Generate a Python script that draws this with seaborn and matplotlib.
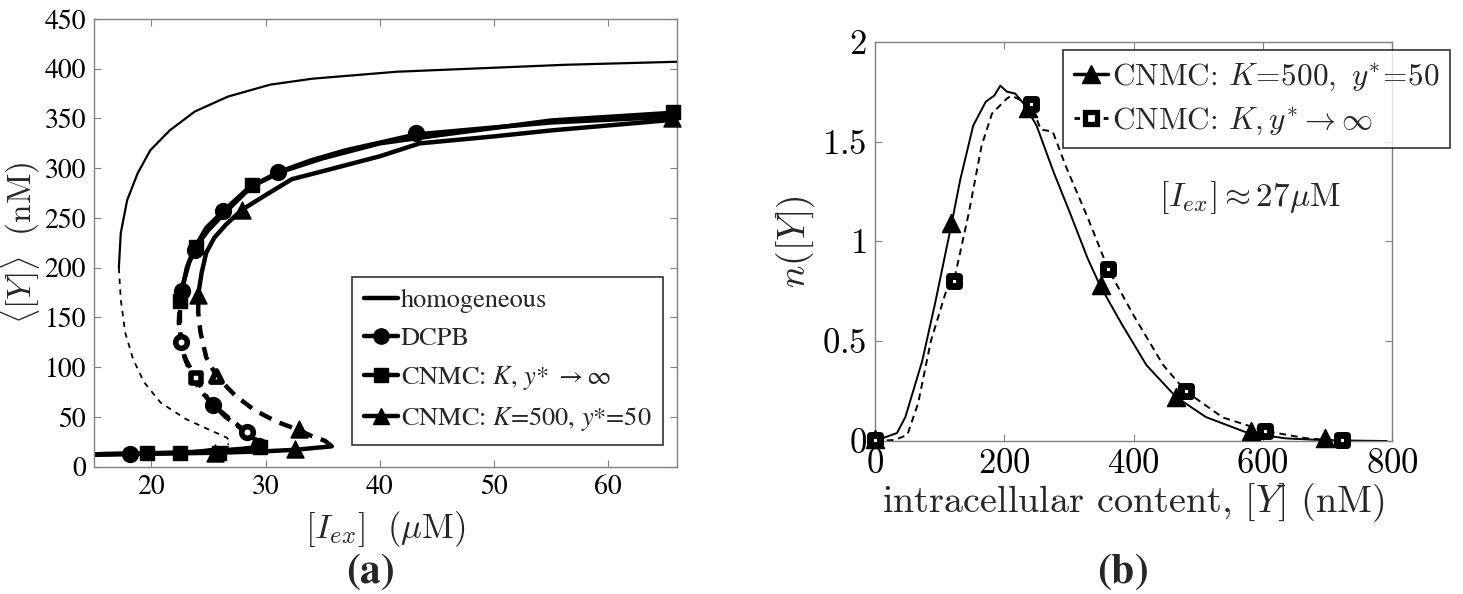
import numpy as np
import pandas as pd
import matplotlib
matplotlib.use("Agg")
import matplotlib.pyplot as plt
from matplotlib.lines import Line2D
from matplotlib.font_manager import FontProperties
from matplotlib.ticker import FuncFormatter
import seaborn as sns

# ---------------- data: panel (a) ----------------
# homogeneous
hom_up_x = [17.15, 17.32, 17.88, 18.8, 19.9, 21.6, 23.8, 26.7, 30.4, 34.1, 41.5, 48.9, 56.3, 66.0]
hom_up_y = [200, 235, 268, 295, 318, 338, 357, 372, 384, 390, 397, 400.5, 404, 407]
hom_mid_x = [17.15, 17.32, 17.7, 18.4, 19.35, 20.8, 23.0, 24.9, 26.55, 26.9, 26.7]
hom_mid_y = [200, 168, 135, 108, 85, 64.5, 48, 38, 29.5, 26, 22]
hom_low_x = [15.0, 20.0, 24.0, 26.7]
hom_low_y = [12.5, 13.5, 16.0, 20.0]

# DCPB
dc_low_x = [15.0, 18.0, 22.0, 25.0, 28.0, 29.8]
dc_low_y = [12.5, 13.0, 14.0, 15.5, 18.0, 20.5]
dc_mid_x = [29.8, 29.3, 28.3, 27.0, 25.4, 24.2, 23.4, 22.9, 22.6, 22.5, 22.5, 22.6]
dc_mid_y = [20.5, 25, 35, 47, 62, 78, 95, 110, 125, 140, 155, 165]
dc_up_x = [22.6, 22.7, 23.1, 23.7, 24.8, 26.3, 28.5, 31.1, 34.0, 37.0, 43.2, 50.0, 55.0, 66.0]
dc_up_y = [165, 177, 200, 218, 240, 257, 280, 296, 308, 318, 334, 341, 346, 352]
dc_mk_x = [18.1, 22.6, 25.4, 28.4, 29.4, 22.7, 23.8, 26.3, 31.1, 43.2]
dc_mk_y = [13, 125, 62, 35, 21, 177, 218, 257, 296, 335]
dc_mk_hollow = [0, 1, 0, 1, 0, 0, 0, 0, 0, 0]

# CNMC: K, y* -> inf
sq_low_x = [15.0, 19.6, 22.5, 25.8, 28.0, 30.0]
sq_low_y = [12.5, 13.5, 14.0, 15.0, 17.5, 20.0]
sq_mid_x = [30.0, 29.3, 28.0, 26.5, 25.0, 23.9, 23.0, 22.6, 22.4, 22.5]
sq_mid_y = [20, 26, 37, 50, 67, 89, 108, 125, 145, 167]
sq_up_x = [22.5, 22.8, 23.3, 23.9, 25.0, 26.5, 28.8, 31.5, 35.0, 40.0, 45.0, 55.0, 66.0]
sq_up_y = [167, 185, 205, 221, 238, 256, 282, 297, 310, 325, 333, 348, 356]
sq_mk_x = [19.6, 22.5, 25.9, 29.5, 23.9, 22.5, 23.9, 28.8, 65.7]
sq_mk_y = [13.5, 14, 13.5, 20, 89, 167, 221, 283, 357]
sq_mk_hollow = [0, 0, 0, 0, 1, 0, 0, 0, 0]

# CNMC: K=500, y*=50
tr_low_x = [15.0, 20.0, 25.6, 30.0, 32.6, 35.8]
tr_low_y = [12.0, 13.0, 14.0, 15.5, 17.0, 20.5]
tr_mid_x = [35.8, 35.2, 34.0, 32.9, 31.0, 29.0, 27.3, 25.7, 24.8, 24.3, 24.1, 24.1]
tr_mid_y = [20.5, 26, 31, 37, 45, 57, 72, 91, 110, 135, 155, 173]
tr_up_x = [24.1, 24.4, 24.8, 25.5, 26.5, 27.9, 30.0, 32.3, 36.0, 40.0, 43.5, 50.0, 55.0, 66.0]
tr_up_y = [173, 195, 215, 230, 243, 258, 273, 289, 300, 312, 325, 332, 338, 349]
tr_mk_x = [25.6, 32.6, 25.7, 32.9, 24.1, 27.9, 65.6]
tr_mk_y = [14, 17.5, 91, 38, 173, 258, 350]
tr_mk_hollow = [0, 0, 1, 0, 0, 0, 0]

legend_a = ["homogeneous", "DCPB", r"CNMC: $K$, $y$* $\rightarrow\infty$", r"CNMC: $K$=500, $y$*=50"]
xticks_a = [20, 30, 40, 50, 60]
yticks_a = [0, 50, 100, 150, 200, 250, 300, 350, 400, 450]

# ---------------- data: panel (b) ----------------
k500_x = [0, 34, 47, 73, 93, 118, 132, 152, 171.5, 184.6, 194, 204, 217, 230, 250, 276, 302, 329, 348, 381,
          420, 466, 512, 577, 636, 695, 787]
k500_y = [0, 0.04, 0.12, 0.40, 0.69, 1.08, 1.31, 1.58, 1.70, 1.73, 1.78, 1.75, 1.74, 1.69, 1.58, 1.35, 1.14,
          0.915, 0.78, 0.59, 0.38, 0.22, 0.12, 0.04, 0.013, 0.004, 0.0]
k500_mk_x = [0, 118, 236, 349, 465, 582, 697]
k500_mk_y = [0.01, 1.09, 1.67, 0.78, 0.22, 0.05, 0.017]

inf_x = [0, 30, 50, 66.8, 86.4, 109, 122, 145, 165, 181, 204, 211, 242, 256.6, 275, 296, 329, 361, 400, 446,
         480.5, 538, 603.6, 669, 723, 793]
inf_y = [0, 0.005, 0.03, 0.19, 0.50, 0.74, 0.80, 1.14, 1.48, 1.64, 1.715, 1.73, 1.68, 1.56, 1.55, 1.37, 1.12,
         0.86, 0.63, 0.38, 0.25, 0.118, 0.05, 0.013, 0.0, 0.0]
inf_mk_x = [0, 122, 242, 361, 481, 604, 722]
inf_mk_y = [0.005, 0.80, 1.69, 0.86, 0.25, 0.05, 0.005]

legend_b = [r"CNMC: $K\!=\!500,\ y^{*}\!=\!50$", r"CNMC: $K, y^{*}\rightarrow\infty$"]
xticks_b = [0, 200, 400, 600, 800]
yticks_b = [0, 0.5, 1, 1.5, 2]
ytick_labels_b = ["0", "0.5", "1", "1.5", "2"]

# ---------------- styling ----------------
sns.set_theme(style="ticks")
plt.rcParams["font.family"] = ["STIXGeneral", "Liberation Serif", "DejaVu Serif"]
plt.rcParams["mathtext.fontset"] = "cm"

W, H = 1463, 594
fig = plt.figure(figsize=(W / 100, H / 100), dpi=100)
fig.patch.set_facecolor("white")

def px_axes(x0, y0, x1, y1):
    return fig.add_axes([x0 / W, 1 - y1 / H, (x1 - x0) / W, (y1 - y0) / H])

axA = px_axes(94.3, 19, 676.7, 466.7)
axB = px_axes(875, 41.7, 1392, 441)

def style_axes(ax, lsize):
    for s in ax.spines.values():
        s.set_color("0.5")
        s.set_linewidth(1.0)
    ax.tick_params(direction="in", top=True, right=True, length=5, width=0.8, color="0.5",
                   labelsize=lsize, pad=6, labelcolor="black")
    ax.set_facecolor("white")
    ax.grid(False)

def line(ax, x, y, lw, ls="-"):
    df = pd.DataFrame({"x": x, "y": y})
    sns.lineplot(data=df, x="x", y="y", sort=False, estimator=None, ax=ax, color="black",
                 linewidth=lw, linestyle=ls, legend=False)

def marks(ax, x, y, hollow, marker, s, hs=None, hlw=4.0):
    df = pd.DataFrame({"x": x, "y": y, "h": hollow})
    f = df[df.h == 0]
    h = df[df.h == 1]
    if len(f):
        sns.scatterplot(data=f, x="x", y="y", ax=ax, marker=marker, s=s, color="black",
                        edgecolor="black", linewidth=1, zorder=5, clip_on=False, legend=False)
    if len(h):
        sns.scatterplot(data=h, x="x", y="y", ax=ax, marker=marker, s=hs if hs else s * 0.6,
                        color="white", edgecolor="black", linewidth=hlw, zorder=5, clip_on=False,
                        legend=False)

# ---- panel (a)
thick = 3.2
line(axA, hom_up_x, hom_up_y, 1.6)
line(axA, hom_mid_x, hom_mid_y, 1.3, (0, (3, 3)))
line(axA, hom_low_x, hom_low_y, 1.6)
for lo, mid, up in [((dc_low_x, dc_low_y), (dc_mid_x, dc_mid_y), (dc_up_x, dc_up_y)),
                    ((sq_low_x, sq_low_y), (sq_mid_x, sq_mid_y), (sq_up_x, sq_up_y)),
                    ((tr_low_x, tr_low_y), (tr_mid_x, tr_mid_y), (tr_up_x, tr_up_y))]:
    line(axA, *lo, thick)
    line(axA, *mid, thick, (0, (3, 2)))
    line(axA, *up, thick)
marks(axA, dc_mk_x, dc_mk_y, dc_mk_hollow, "o", 130, hs=70, hlw=4.0)
marks(axA, sq_mk_x, sq_mk_y, sq_mk_hollow, "s", 110, hs=55, hlw=4.0)
marks(axA, tr_mk_x, tr_mk_y, tr_mk_hollow, "^", 150, hs=65, hlw=4.0)

axA.set_xlim(15, 66)
axA.set_ylim(0, 450)
axA.set_xticks(xticks_a)
axA.set_yticks(yticks_a)
style_axes(axA, 20)
axA.set_xlabel(r"$[I_{ex}]\ \ (\mu\mathrm{M})$", fontsize=25, labelpad=6)
axA.set_ylabel(r"$\langle[Y]\rangle\ \ (\mathrm{nM})$", fontsize=24, labelpad=2)

hA = [Line2D([], [], color="black", lw=thick),
      Line2D([], [], color="black", lw=thick, marker="o", ms=11),
      Line2D([], [], color="black", lw=thick, marker="s", ms=10),
      Line2D([], [], color="black", lw=thick, marker="^", ms=12)]
legA = axA.legend(hA, legend_a, loc="upper left", bbox_to_anchor=(0.4425, 0.424),
                  borderaxespad=0, frameon=True, fancybox=False, edgecolor="black",
                  prop=FontProperties(family="STIXGeneral", size=19, math_fontfamily="stix"),
                  handlelength=1.3, handletextpad=0.1, labelspacing=0.5, borderpad=0.45)
legA.get_frame().set_linewidth(1.2)

# ---- panel (b)
line(axB, k500_x, k500_y, 1.4)
line(axB, inf_x, inf_y, 1.4, (0, (3.5, 2.5)))
marks(axB, k500_mk_x, k500_mk_y, [0] * len(k500_mk_x), "^", 170)
marks(axB, inf_mk_x, inf_mk_y, [1] * len(inf_mk_x), "s", 110, hs=60, hlw=5.0)

axB.set_xlim(0, 800)
axB.set_ylim(0, 2)
axB.set_xticks(xticks_b)
axB.set_yticks(yticks_b)
axB.xaxis.set_major_formatter(FuncFormatter(lambda v, p: r"$\mathrm{%d}$" % v))
axB.set_yticklabels([r"$\mathrm{%s}$" % t for t in ytick_labels_b])
style_axes(axB, 25)
axB.set_xlabel(r"intracellular content, $[Y]$ (nM)", fontsize=27.5, labelpad=0, fontfamily="cmr10")
axB.set_ylabel(r"$n([Y])$", fontsize=27, labelpad=4)
axB.text(0.55, 0.61, r"$[I_{ex}]\approx 27\mu\mathrm{M}$", transform=axB.transAxes, fontsize=24,
         ha="left", va="center")

hB = [Line2D([], [], color="black", lw=2.5, marker="^", ms=13),
      Line2D([], [], color="black", lw=2.0, ls=(0, (2, 1.5)), marker="s", ms=8, mfc="white", mew=3.8)]
legB = axB.legend(hB, legend_b, loc="upper right", bbox_to_anchor=(1.112, 0.979),
                  borderaxespad=0, frameon=True, fancybox=False, edgecolor="black",
                  prop=FontProperties(family="cmr10", size=22.5, math_fontfamily="cm"),
                  handlelength=1.1, handletextpad=0.1, labelspacing=0.4, borderpad=0.35)
legB.get_frame().set_linewidth(1.2)

fig.text(0.253, 1 - 572 / H, r"$\mathbf{(a)}$", fontsize=30, ha="center", va="center",
         math_fontfamily="stix")
fig.text(0.767, 1 - 572 / H, r"$\mathbf{(b)}$", fontsize=30, ha="center", va="center",
         math_fontfamily="stix")

fig.savefig("out.png", dpi=100, facecolor="white")
